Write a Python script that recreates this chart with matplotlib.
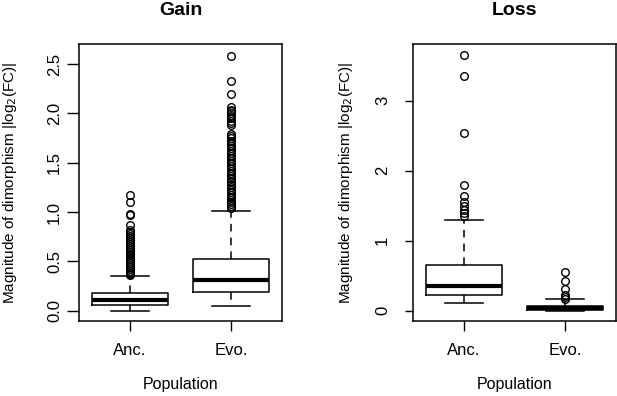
import matplotlib.pyplot as plt
import numpy as np

plt.rcParams['font.family'] = ['Liberation Sans', 'DejaVu Sans']

groups = ['Anc.', 'Evo.']

# Gain: whisker low, Q1, median, Q3, whisker high
gain_anc_stats = [0.0, 0.057, 0.11, 0.18, 0.35]
gain_evo_stats = [0.05, 0.19, 0.31, 0.52, 1.01]
gain_anc_out = [1.17, 1.10, 0.98, 0.97, 0.87, 0.82, 0.80, 0.78, 0.76, 0.74, 0.72,
                0.70, 0.68, 0.66, 0.64, 0.62, 0.60, 0.58, 0.56, 0.54, 0.52, 0.50,
                0.48, 0.46, 0.44, 0.42, 0.40, 0.38, 0.37, 0.36]
gain_evo_out = [2.58, 2.33, 2.20, 2.07, 2.04, 2.02, 2.00, 1.97, 1.95, 1.92, 1.90,
                1.88, 1.79, 1.77, 1.75, 1.72, 1.70, 1.67, 1.65, 1.62, 1.60,
                1.57, 1.55, 1.52, 1.50, 1.47, 1.45, 1.42, 1.40, 1.37, 1.35, 1.32,
                1.30, 1.27, 1.25, 1.22, 1.20, 1.17, 1.15, 1.12, 1.10, 1.08, 1.06,
                1.04]

# Loss
loss_anc_stats = [0.11, 0.23, 0.36, 0.65, 1.29]
loss_evo_stats = [0.0, 0.015, 0.045, 0.075, 0.165]
loss_anc_out = [3.66, 3.35, 2.54, 1.80, 1.64, 1.56, 1.50, 1.44, 1.40, 1.36]
loss_evo_out = [0.56, 0.43, 0.31, 0.22, 0.19, 0.175]


def make_stats(s, out, label):
    return dict(whislo=s[0], q1=s[1], med=s[2], q3=s[3], whishi=s[4],
                fliers=out, label=label)


fig = plt.figure(figsize=(6.17, 3.96), dpi=100)
ax1 = fig.add_axes([79 / 617, 1 - 321 / 396, 203 / 617, 277 / 396])
ax2 = fig.add_axes([413 / 617, 1 - 321 / 396, 203 / 617, 277 / 396])

panels = [
    (ax1, 'Gain', [make_stats(gain_anc_stats, gain_anc_out, groups[0]),
                   make_stats(gain_evo_stats, gain_evo_out, groups[1])],
     (-0.104, 2.704), [0, 0.5, 1.0, 1.5, 2.0, 2.5],
     ['0.0', '0.5', '1.0', '1.5', '2.0', '2.5'], -0.296, 8.6, 3.6),
    (ax2, 'Loss', [make_stats(loss_anc_stats, loss_anc_out, groups[0]),
                   make_stats(loss_evo_stats, loss_evo_out, groups[1])],
     (-0.146, 3.81), [0, 1, 2, 3], ['0', '1', '2', '3'], -0.286, 6, 10.5),
]

for ax, title, stats, ylim, yt, ytl, labx, tlen, tpad in panels:
    ax.bxp(stats, positions=[1, 2], widths=0.75, showfliers=True,
           boxprops=dict(color='black', linewidth=1.1),
           medianprops=dict(color='black', linewidth=3),
           whiskerprops=dict(color='black', linewidth=1.1, linestyle=(0, (5, 4))),
           capprops=dict(color='black', linewidth=1.1),
           capwidths=0.375,
           flierprops=dict(marker='o', markerfacecolor='none',
                           markeredgecolor='black', markersize=5.5,
                           markeredgewidth=1.0))
    ax.set_xlim(0.5, 2.5)
    ax.set_ylim(*ylim)
    ax.set_yticks(yt)
    ax.set_yticklabels(ytl, rotation=90, va='center')
    ax.set_xticks([1, 2])
    ax.set_xticklabels(groups)
    ax.tick_params(axis='y', length=tlen, width=1, pad=tpad, labelsize=12)
    ax.tick_params(axis='x', length=7.5, width=1, pad=8, labelsize=12)
    for sp in ax.spines.values():
        sp.set_linewidth(1.1)
    ax.set_title(title, fontweight='bold', fontsize=14, pad=21)
    ax.set_xlabel('Population', fontsize=11.5, labelpad=14)
    ax.set_ylabel('Magnitude of dimorphism |log$_2$(FC)|', fontsize=11)
    ax.yaxis.set_label_coords(labx, 0.5)

fig.savefig('out.png', dpi=100)
